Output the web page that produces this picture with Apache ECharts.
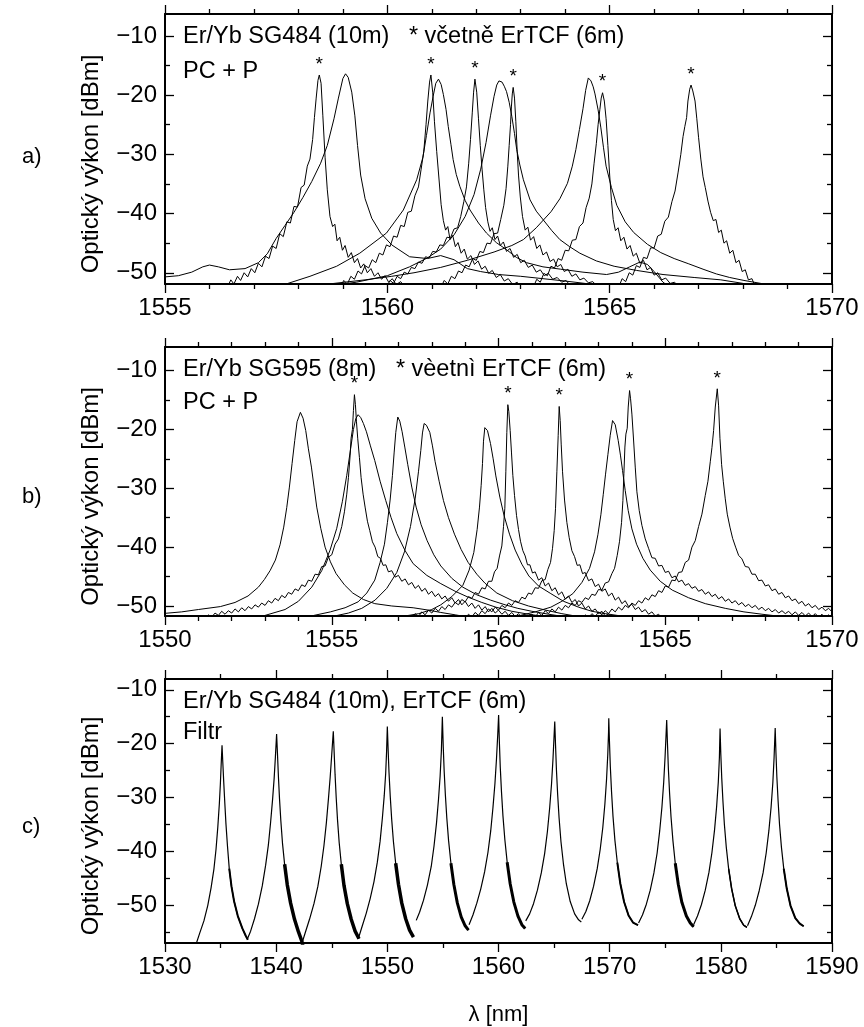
<!DOCTYPE html>
<html>
<head>
<meta charset="utf-8">
<script src="https://cdn.jsdelivr.net/npm/echarts@6/dist/echarts.min.js"></script>
<style>
  html, body { margin: 0; padding: 0; background: #fff; }
  #chart { width: 864px; height: 1027px; }
</style>
</head>
<body>
<div id="chart"></div>
<script>
// ---------- axis ranges and tick values ----------
const xRangeA = [1555, 1570];
const xRangeB = [1550, 1570];
const xRangeC = [1530, 1590];
const yRangeA = [-51.9, -6.3];
const yRangeB = [-51.7, -6.0];
const yRangeC = [-57, -8];
const yMajorTicks = [-50, -40, -30, -20, -10];
const yMinorTicksAB = [-45, -35, -25, -15];
const yMinorTicksC = [-55, -45, -35, -25, -15];

// ---------- panel a: Er/Yb SG484 (10 m); starred = with ErTCF (6 m) ----------
const aU1 = [[1555.0,-50.7],[1555.3,-50.5],[1555.6,-49.9],[1555.85,-49.0],[1556.0,-48.7],[1556.2,-49.0],[1556.45,-49.5],[1556.8,-49.3],[1557.1,-48.3],[1557.3,-46.8],[1557.5,-44.2],[1557.7,-42.0],[1557.9,-39.8],[1558.1,-37.3],[1558.3,-34.6],[1558.5,-31.5],[1558.65,-28.5],[1558.8,-24.0],[1558.9,-20.5],[1559.0,-17.2],[1559.06,-16.4],[1559.12,-17.0],[1559.2,-19.5],[1559.27,-23.5],[1559.33,-28.5],[1559.4,-33.5],[1559.5,-37.5],[1559.65,-40.8],[1559.85,-43.3],[1560.1,-45.3],[1560.5,-47.3],[1560.9,-47.6],[1561.2,-47.1],[1561.5,-47.8],[1561.8,-49.3],[1562.1,-49.8],[1562.5,-50.3],[1563.0,-50.6],[1564.0,-51.4],[1565.0,-52.3]];
const aS1 = [[1556.40,-52.5],[1556.48,-51.2],[1556.55,-51.9],[1556.63,-50.6],[1556.7,-51.3],[1556.78,-50.0],[1556.86,-50.7],[1556.94,-49.3],[1557.02,-50.0],[1557.1,-48.4],[1557.18,-49.0],[1557.26,-47.2],[1557.34,-47.6],[1557.42,-45.5],[1557.5,-45.9],[1557.58,-43.4],[1557.66,-43.9],[1557.74,-41.4],[1557.82,-41.6],[1557.9,-38.8],[1557.98,-38.9],[1558.06,-35.6],[1558.13,-35.2],[1558.2,-32.0],[1558.26,-30.8],[1558.32,-27.5],[1558.36,-23.8],[1558.4,-20.5],[1558.44,-17.5],[1558.47,-16.6],[1558.51,-18.0],[1558.55,-23.5],[1558.6,-30.5],[1558.65,-36.0],[1558.71,-40.5],[1558.77,-42.2],[1558.82,-41.8],[1558.87,-44.6],[1558.93,-44.0],[1558.99,-46.2],[1559.05,-45.4],[1559.12,-47.4],[1559.19,-46.6],[1559.26,-48.3],[1559.33,-47.6],[1559.4,-49.2],[1559.47,-48.5],[1559.55,-50.0],[1559.63,-49.3],[1559.71,-50.6],[1559.79,-50.0],[1559.87,-51.1],[1559.95,-50.5],[1560.03,-51.6],[1560.11,-51.0],[1560.2,-52.0],[1560.3,-51.5],[1560.4,-52.5]];
const aS2 = [[1558.94,-52.5],[1559.02,-51.3],[1559.1,-51.9],[1559.18,-50.6],[1559.26,-51.1],[1559.34,-49.7],[1559.42,-50.2],[1559.5,-48.8],[1559.58,-49.2],[1559.66,-47.8],[1559.74,-48.3],[1559.82,-46.7],[1559.9,-47.0],[1559.98,-45.3],[1560.06,-45.6],[1560.14,-43.8],[1560.22,-44.0],[1560.3,-42.0],[1560.38,-42.2],[1560.46,-39.8],[1560.54,-39.6],[1560.62,-37.0],[1560.7,-35.5],[1560.76,-32.5],[1560.82,-29.5],[1560.87,-25.0],[1560.91,-21.0],[1560.95,-17.8],[1560.98,-16.6],[1561.02,-19.5],[1561.06,-24.5],[1561.11,-29.5],[1561.16,-34.0],[1561.21,-38.5],[1561.26,-41.2],[1561.31,-42.8],[1561.36,-42.2],[1561.41,-44.4],[1561.47,-43.7],[1561.53,-45.6],[1561.59,-44.9],[1561.66,-46.7],[1561.73,-46.0],[1561.8,-47.7],[1561.88,-47.1],[1561.96,-48.6],[1562.04,-48.0],[1562.12,-49.4],[1562.2,-48.9],[1562.28,-50.1],[1562.36,-49.6],[1562.45,-50.8],[1562.54,-50.3],[1562.63,-51.4],[1562.72,-51.0],[1562.82,-52.0],[1562.92,-51.6],[1563.02,-52.5]];
const aU2 = [[1557.6,-52.2],[1558.26,-50.6],[1558.86,-48.9],[1559.38,-46.7],[1559.98,-43.3],[1560.36,-39.4],[1560.66,-34.3],[1560.8,-30.5],[1560.88,-26.8],[1560.96,-23.0],[1561.03,-20.2],[1561.09,-18.0],[1561.15,-17.3],[1561.21,-18.2],[1561.26,-19.9],[1561.32,-22.4],[1561.37,-25.3],[1561.43,-28.3],[1561.48,-30.9],[1561.55,-33.4],[1561.63,-35.4],[1561.75,-37.8],[1561.86,-39.4],[1562.05,-41.6],[1562.23,-43.3],[1562.45,-44.9],[1562.68,-46.1],[1562.9,-47.4],[1563.13,-48.3],[1563.5,-49.0],[1563.9,-49.4],[1564.4,-49.9],[1564.93,-50.3],[1565.2,-49.9],[1565.45,-49.0],[1565.68,-48.2],[1565.85,-48.6],[1566.0,-49.8],[1566.2,-51.6],[1566.35,-52.4]];
const aS3 = [[1559.98,-52.5],[1560.06,-51.3],[1560.14,-51.8],[1560.22,-50.6],[1560.3,-51.0],[1560.38,-49.9],[1560.46,-50.2],[1560.54,-49.1],[1560.62,-49.3],[1560.7,-48.2],[1560.78,-48.4],[1560.86,-47.3],[1560.94,-47.5],[1561.02,-46.4],[1561.1,-46.5],[1561.18,-45.3],[1561.26,-45.4],[1561.34,-44.0],[1561.42,-44.1],[1561.5,-42.6],[1561.58,-42.4],[1561.65,-40.5],[1561.72,-38.0],[1561.78,-35.5],[1561.83,-31.5],[1561.87,-27.5],[1561.91,-23.0],[1561.94,-19.5],[1561.97,-17.3],[1562.01,-19.5],[1562.05,-24.0],[1562.09,-28.5],[1562.13,-32.5],[1562.17,-36.0],[1562.21,-39.0],[1562.26,-41.4],[1562.31,-43.0],[1562.36,-42.4],[1562.42,-44.4],[1562.48,-43.8],[1562.54,-45.4],[1562.61,-44.8],[1562.68,-46.4],[1562.76,-45.9],[1562.84,-47.4],[1562.92,-46.9],[1563.0,-48.3],[1563.08,-47.9],[1563.17,-49.1],[1563.26,-48.7],[1563.35,-49.9],[1563.44,-49.5],[1563.53,-50.5],[1563.62,-50.1],[1563.72,-51.1],[1563.82,-50.8],[1563.92,-51.6],[1564.02,-51.3],[1564.15,-52.5]];
const aU3 = [[1558.6,-52.3],[1559.3,-51.6],[1560.0,-50.5],[1560.5,-49.0],[1560.9,-47.5],[1561.2,-46.0],[1561.5,-43.6],[1561.75,-40.5],[1561.95,-36.8],[1562.1,-32.5],[1562.22,-28.0],[1562.32,-23.5],[1562.4,-20.2],[1562.46,-18.3],[1562.51,-17.6],[1562.58,-17.8],[1562.63,-18.5],[1562.68,-19.4],[1562.74,-21.2],[1562.8,-23.6],[1562.86,-26.5],[1562.91,-29.2],[1562.98,-31.8],[1563.06,-34.3],[1563.21,-37.7],[1563.35,-39.6],[1563.51,-41.1],[1563.7,-42.9],[1563.88,-44.4],[1564.1,-45.6],[1564.33,-46.7],[1564.7,-48.0],[1565.1,-48.9],[1565.6,-49.6],[1566.2,-50.3],[1566.9,-50.8],[1567.5,-51.2],[1568.0,-51.8],[1568.3,-52.3]];
const aS4 = [[1561.2,-52.5],[1561.28,-51.3],[1561.36,-51.9],[1561.44,-50.6],[1561.52,-51.0],[1561.6,-49.7],[1561.68,-50.0],[1561.76,-48.7],[1561.84,-49.0],[1561.92,-47.6],[1562.0,-47.9],[1562.08,-46.4],[1562.16,-46.6],[1562.24,-45.0],[1562.32,-45.1],[1562.4,-43.4],[1562.48,-43.3],[1562.55,-41.0],[1562.62,-38.6],[1562.67,-35.8],[1562.71,-32.0],[1562.74,-28.5],[1562.77,-25.0],[1562.79,-22.0],[1562.81,-19.8],[1562.83,-18.7],[1562.86,-20.5],[1562.89,-24.5],[1562.92,-29.5],[1562.95,-33.5],[1562.99,-37.2],[1563.04,-40.5],[1563.1,-42.8],[1563.16,-42.3],[1563.22,-44.5],[1563.29,-43.9],[1563.36,-45.9],[1563.43,-45.3],[1563.5,-47.0],[1563.58,-46.5],[1563.66,-48.1],[1563.74,-47.7],[1563.82,-49.0],[1563.9,-48.6],[1563.98,-49.8],[1564.06,-49.4],[1564.15,-50.6],[1564.24,-50.2],[1564.33,-51.2],[1564.42,-50.9],[1564.52,-51.7],[1564.62,-51.5],[1564.75,-52.5]];
const aU4 = [[1558.0,-52.3],[1558.8,-51.8],[1559.5,-51.2],[1560.1,-50.6],[1560.6,-50.0],[1561.2,-49.1],[1561.8,-47.9],[1562.4,-46.5],[1562.8,-45.4],[1563.06,-44.4],[1563.35,-42.4],[1563.68,-39.7],[1563.88,-37.5],[1564.05,-34.9],[1564.16,-32.0],[1564.24,-29.2],[1564.32,-25.8],[1564.4,-22.3],[1564.46,-19.2],[1564.52,-17.1],[1564.58,-17.6],[1564.63,-18.6],[1564.67,-19.8],[1564.74,-22.5],[1564.8,-25.4],[1564.86,-28.8],[1564.92,-32.0],[1565.04,-35.6],[1565.16,-38.6],[1565.35,-41.4],[1565.54,-43.2],[1565.85,-45.2],[1566.15,-46.6],[1566.45,-47.6],[1566.78,-48.5],[1567.1,-49.4],[1567.4,-50.2],[1567.7,-50.8],[1568.02,-51.3],[1568.4,-51.8],[1568.8,-52.3]];
const aS5 = [[1563.28,-52.5],[1563.36,-51.1],[1563.44,-51.6],[1563.52,-50.1],[1563.6,-50.5],[1563.68,-48.9],[1563.76,-49.2],[1563.84,-47.6],[1563.92,-47.9],[1564.0,-46.2],[1564.08,-46.3],[1564.16,-44.5],[1564.24,-44.4],[1564.32,-42.2],[1564.4,-41.6],[1564.47,-39.0],[1564.54,-37.4],[1564.6,-35.0],[1564.65,-31.5],[1564.7,-28.2],[1564.74,-25.0],[1564.78,-22.4],[1564.81,-20.5],[1564.84,-19.6],[1564.88,-21.0],[1564.92,-24.0],[1564.96,-28.5],[1565.0,-33.5],[1565.04,-37.8],[1565.08,-41.0],[1565.13,-42.9],[1565.19,-42.4],[1565.25,-44.6],[1565.32,-44.0],[1565.39,-46.0],[1565.46,-45.4],[1565.53,-47.2],[1565.6,-46.7],[1565.68,-48.4],[1565.76,-47.9],[1565.84,-49.5],[1565.92,-49.1],[1566.0,-50.4],[1566.08,-50.0],[1566.17,-51.2],[1566.26,-50.9],[1566.36,-51.8],[1566.46,-51.6],[1566.58,-52.5]];
const aS6 = [[1565.2,-52.5],[1565.28,-51.0],[1565.36,-51.5],[1565.44,-50.0],[1565.52,-50.4],[1565.6,-48.8],[1565.68,-49.1],[1565.76,-47.4],[1565.84,-47.6],[1565.92,-45.8],[1566.0,-45.8],[1566.08,-43.8],[1566.16,-43.5],[1566.24,-41.3],[1566.32,-40.6],[1566.4,-38.0],[1566.47,-36.2],[1566.54,-33.0],[1566.6,-30.0],[1566.65,-27.0],[1566.69,-25.3],[1566.73,-23.8],[1566.76,-21.0],[1566.8,-19.0],[1566.83,-18.3],[1566.87,-19.3],[1566.92,-21.0],[1566.96,-24.0],[1567.0,-27.2],[1567.05,-30.8],[1567.1,-33.8],[1567.15,-35.6],[1567.21,-37.9],[1567.27,-39.8],[1567.33,-41.2],[1567.39,-41.0],[1567.45,-43.2],[1567.51,-42.8],[1567.57,-45.0],[1567.63,-44.6],[1567.7,-46.7],[1567.77,-46.2],[1567.84,-48.3],[1567.91,-47.9],[1567.98,-49.8],[1568.05,-49.5],[1568.12,-51.2],[1568.2,-51.0],[1568.28,-52.5]];

// ---------- panel b: Er/Yb SG595 (8 m); starred = with ErTCF (6 m) ----------
const bU1 = [[1549.9,-51.3],[1550.5,-51.0],[1551.0,-50.6],[1551.66,-50.1],[1552.1,-49.4],[1552.49,-48.3],[1552.8,-46.8],[1552.98,-45.5],[1553.15,-44.0],[1553.31,-42.2],[1553.45,-39.6],[1553.56,-36.6],[1553.65,-33.3],[1553.73,-29.8],[1553.81,-25.8],[1553.89,-21.9],[1553.96,-18.7],[1554.06,-17.1],[1554.14,-18.1],[1554.22,-20.2],[1554.3,-23.3],[1554.39,-26.4],[1554.47,-29.8],[1554.55,-33.2],[1554.67,-36.8],[1554.8,-40.0],[1554.96,-42.5],[1555.13,-44.5],[1555.38,-46.4],[1555.63,-47.8],[1555.95,-48.9],[1556.29,-49.6],[1556.8,-50.0],[1557.44,-50.3],[1557.9,-50.7],[1558.27,-51.1],[1558.7,-51.5],[1559.0,-51.8],[1559.5,-52.2]];
const bS1 = [[1551.2,-52.3],[1551.3,-51.5],[1551.4,-51.9],[1551.5,-51.2],[1551.6,-51.6],[1551.7,-50.9],[1551.8,-51.4],[1551.9,-50.8],[1552.0,-51.2],[1552.1,-50.5],[1552.2,-51.0],[1552.3,-50.3],[1552.4,-50.8],[1552.5,-50.1],[1552.6,-50.5],[1552.7,-49.8],[1552.8,-50.2],[1552.9,-49.5],[1553.0,-49.9],[1553.1,-49.1],[1553.2,-49.5],[1553.3,-48.7],[1553.4,-49.1],[1553.5,-48.2],[1553.6,-48.6],[1553.7,-47.7],[1553.8,-48.0],[1553.9,-47.1],[1554.0,-47.4],[1554.1,-46.4],[1554.2,-46.7],[1554.3,-45.6],[1554.4,-45.8],[1554.5,-44.6],[1554.6,-44.7],[1554.7,-43.3],[1554.8,-43.2],[1554.9,-41.7],[1555.0,-41.3],[1555.1,-39.5],[1555.2,-38.6],[1555.3,-36.5],[1555.38,-34.0],[1555.45,-31.0],[1555.5,-28.2],[1555.55,-24.5],[1555.58,-21.5],[1555.62,-20.0],[1555.65,-16.8],[1555.68,-14.1],[1555.71,-15.8],[1555.74,-18.6],[1555.78,-21.6],[1555.83,-24.8],[1555.88,-28.2],[1555.94,-31.0],[1556.0,-33.2],[1556.07,-35.6],[1556.14,-37.2],[1556.22,-39.1],[1556.3,-40.0],[1556.38,-41.6],[1556.46,-41.9],[1556.54,-43.1],[1556.62,-43.0],[1556.7,-44.2],[1556.8,-44.0],[1556.9,-45.1],[1557.0,-44.8],[1557.1,-45.8],[1557.2,-45.4],[1557.3,-46.4],[1557.4,-46.0],[1557.5,-47.0],[1557.6,-46.5],[1557.7,-47.5],[1557.8,-47.0],[1557.9,-48.0],[1558.0,-47.5],[1558.1,-48.4],[1558.2,-47.9],[1558.3,-48.8],[1558.4,-48.3],[1558.5,-49.2],[1558.6,-48.6],[1558.7,-49.5],[1558.8,-48.9],[1558.9,-49.8],[1559.0,-49.2],[1559.1,-50.1],[1559.2,-49.5],[1559.3,-50.4],[1559.4,-49.8],[1559.5,-50.7],[1559.6,-50.1],[1559.7,-51.0],[1559.8,-50.4],[1559.9,-51.2],[1560.0,-50.7],[1560.1,-51.4],[1560.2,-50.9],[1560.3,-51.6],[1560.4,-51.1],[1560.5,-51.8],[1560.6,-51.3],[1560.7,-52.0],[1560.8,-51.5],[1560.9,-52.3]];
const bU2 = [[1552.3,-52.3],[1553.0,-51.6],[1553.6,-50.6],[1554.0,-49.2],[1554.4,-46.8],[1554.7,-44.0],[1554.95,-40.5],[1555.15,-36.8],[1555.32,-32.2],[1555.45,-27.8],[1555.56,-23.5],[1555.65,-20.0],[1555.72,-18.2],[1555.79,-17.5],[1555.87,-18.0],[1555.95,-19.0],[1556.04,-20.4],[1556.16,-22.8],[1556.29,-25.3],[1556.45,-28.8],[1556.62,-32.1],[1556.78,-35.0],[1556.95,-37.7],[1557.2,-40.6],[1557.44,-42.8],[1557.85,-44.8],[1558.27,-46.2],[1558.7,-47.5],[1559.09,-48.5],[1559.5,-49.4],[1559.92,-50.2],[1560.4,-50.9],[1560.9,-51.4],[1561.5,-51.9],[1562.2,-52.3]];
const bU3 = [[1553.6,-52.3],[1554.3,-51.8],[1554.96,-51.0],[1555.4,-50.3],[1555.79,-49.3],[1556.05,-47.8],[1556.29,-45.6],[1556.45,-42.6],[1556.58,-39.5],[1556.67,-35.8],[1556.75,-32.0],[1556.82,-27.8],[1556.87,-24.0],[1556.92,-20.5],[1556.98,-17.9],[1557.04,-18.6],[1557.11,-20.4],[1557.19,-23.0],[1557.28,-26.0],[1557.4,-29.8],[1557.53,-33.2],[1557.68,-36.2],[1557.86,-38.9],[1558.06,-41.3],[1558.27,-43.2],[1558.6,-45.3],[1558.93,-46.8],[1559.35,-48.1],[1559.76,-49.0],[1560.2,-49.8],[1560.58,-50.4],[1561.0,-50.9],[1561.5,-51.4],[1562.2,-52.0]];
const bU4 = [[1554.3,-52.3],[1555.0,-51.8],[1555.5,-51.2],[1555.9,-50.4],[1556.3,-49.0],[1556.65,-47.0],[1556.95,-44.3],[1557.18,-40.8],[1557.36,-36.5],[1557.5,-31.8],[1557.6,-27.2],[1557.67,-23.6],[1557.72,-20.6],[1557.77,-19.0],[1557.84,-19.3],[1557.94,-20.5],[1558.02,-22.8],[1558.1,-25.5],[1558.22,-28.8],[1558.35,-32.1],[1558.5,-35.0],[1558.68,-37.8],[1558.88,-40.4],[1559.09,-42.6],[1559.35,-44.6],[1559.59,-46.1],[1559.95,-47.8],[1560.42,-49.1],[1560.9,-50.0],[1561.41,-50.7],[1561.9,-51.3],[1562.4,-51.8],[1563.0,-52.3]];
const bU5 = [[1556.4,-52.3],[1557.0,-51.9],[1557.61,-51.3],[1558.0,-50.6],[1558.27,-49.8],[1558.6,-48.4],[1558.93,-46.5],[1559.12,-43.9],[1559.26,-40.9],[1559.36,-37.0],[1559.43,-33.2],[1559.48,-29.5],[1559.52,-25.8],[1559.55,-22.0],[1559.59,-19.7],[1559.67,-20.2],[1559.76,-22.4],[1559.84,-25.0],[1559.92,-27.9],[1560.04,-31.5],[1560.17,-34.7],[1560.33,-37.8],[1560.5,-40.5],[1560.7,-42.9],[1560.91,-44.9],[1561.2,-46.6],[1561.57,-47.9],[1561.95,-49.2],[1562.4,-50.2],[1562.8,-50.9],[1563.2,-51.3],[1563.8,-51.8],[1564.5,-52.3]];
const bS2 = [[1557.2,-52.3],[1557.3,-51.6],[1557.4,-52.0],[1557.5,-51.3],[1557.6,-51.8],[1557.7,-51.0],[1557.8,-51.5],[1557.9,-50.7],[1558.0,-51.2],[1558.1,-50.4],[1558.2,-50.9],[1558.3,-50.1],[1558.4,-50.6],[1558.5,-49.8],[1558.6,-50.2],[1558.7,-49.4],[1558.8,-49.8],[1558.9,-48.9],[1559.0,-49.3],[1559.1,-48.4],[1559.2,-48.7],[1559.3,-47.7],[1559.4,-48.0],[1559.5,-46.9],[1559.6,-47.1],[1559.7,-45.8],[1559.8,-45.8],[1559.88,-44.2],[1559.96,-43.6],[1560.03,-41.5],[1560.1,-39.8],[1560.15,-36.5],[1560.19,-33.4],[1560.22,-27.2],[1560.25,-20.5],[1560.28,-15.8],[1560.31,-17.0],[1560.35,-20.2],[1560.39,-24.0],[1560.43,-27.8],[1560.48,-31.2],[1560.54,-34.6],[1560.6,-37.0],[1560.66,-39.0],[1560.73,-40.6],[1560.8,-41.5],[1560.87,-43.0],[1560.94,-43.0],[1561.02,-44.4],[1561.1,-44.2],[1561.2,-45.6],[1561.3,-45.2],[1561.4,-46.6],[1561.5,-46.1],[1561.6,-47.4],[1561.7,-46.9],[1561.8,-48.1],[1561.9,-47.6],[1562.0,-48.8],[1562.1,-48.3],[1562.2,-49.4],[1562.3,-48.9],[1562.4,-50.0],[1562.5,-49.5],[1562.6,-50.5],[1562.7,-50.0],[1562.8,-50.9],[1562.9,-50.5],[1563.0,-51.3],[1563.1,-50.9],[1563.2,-51.7],[1563.3,-51.3],[1563.4,-52.0],[1563.5,-51.7],[1563.6,-52.3]];
const bS3 = [[1558.8,-52.3],[1558.9,-51.7],[1559.0,-52.1],[1559.1,-51.4],[1559.2,-51.9],[1559.3,-51.1],[1559.4,-51.6],[1559.5,-50.8],[1559.6,-51.3],[1559.7,-50.5],[1559.8,-51.0],[1559.9,-50.2],[1560.0,-50.7],[1560.1,-49.9],[1560.2,-50.3],[1560.3,-49.5],[1560.4,-49.9],[1560.5,-49.1],[1560.6,-49.4],[1560.7,-48.5],[1560.8,-48.8],[1560.9,-47.8],[1561.0,-48.0],[1561.1,-46.9],[1561.2,-47.0],[1561.3,-45.7],[1561.4,-45.5],[1561.48,-43.8],[1561.56,-42.6],[1561.62,-40.2],[1561.67,-37.2],[1561.71,-33.4],[1561.75,-27.2],[1561.79,-21.0],[1561.82,-16.1],[1561.85,-18.5],[1561.88,-22.5],[1561.92,-27.2],[1561.98,-32.0],[1562.05,-35.8],[1562.12,-38.4],[1562.2,-40.6],[1562.28,-41.6],[1562.36,-43.1],[1562.44,-43.0],[1562.52,-44.5],[1562.6,-44.3],[1562.7,-45.7],[1562.8,-45.4],[1562.9,-46.7],[1563.0,-46.3],[1563.1,-47.5],[1563.2,-47.1],[1563.3,-48.3],[1563.4,-47.8],[1563.5,-49.0],[1563.6,-48.5],[1563.7,-49.6],[1563.8,-49.1],[1563.9,-50.1],[1564.0,-49.7],[1564.1,-50.6],[1564.2,-50.2],[1564.3,-51.0],[1564.4,-50.6],[1564.5,-51.4],[1564.6,-51.0],[1564.7,-51.7],[1564.8,-51.4],[1564.9,-52.0],[1565.0,-51.7],[1565.1,-52.3]];
const bU6 = [[1559.8,-52.3],[1560.58,-51.7],[1561.1,-51.0],[1561.57,-50.2],[1561.9,-49.2],[1562.23,-47.9],[1562.5,-46.0],[1562.73,-43.6],[1562.88,-40.8],[1562.98,-37.9],[1563.07,-34.5],[1563.14,-31.1],[1563.21,-27.6],[1563.28,-24.3],[1563.35,-21.0],[1563.42,-18.5],[1563.5,-19.2],[1563.59,-21.9],[1563.66,-24.5],[1563.72,-27.0],[1563.8,-30.4],[1563.89,-33.8],[1564.0,-36.9],[1564.14,-39.5],[1564.33,-41.9],[1564.55,-43.9],[1564.85,-45.8],[1565.21,-47.3],[1565.7,-48.6],[1566.2,-49.6],[1566.8,-50.4],[1567.36,-51.0],[1567.9,-51.4],[1568.51,-51.8],[1569.3,-52.2]];
const bS4 = [[1560.7,-52.3],[1560.8,-51.7],[1560.9,-52.1],[1561.0,-51.4],[1561.1,-51.9],[1561.2,-51.1],[1561.3,-51.6],[1561.4,-50.8],[1561.5,-51.3],[1561.6,-50.5],[1561.7,-51.0],[1561.8,-50.2],[1561.9,-50.7],[1562.0,-49.9],[1562.1,-50.3],[1562.2,-49.5],[1562.3,-49.9],[1562.4,-49.1],[1562.5,-49.4],[1562.6,-48.6],[1562.7,-48.9],[1562.8,-48.0],[1562.9,-48.2],[1563.0,-47.2],[1563.1,-47.3],[1563.2,-46.1],[1563.3,-45.9],[1563.4,-44.5],[1563.48,-43.6],[1563.56,-41.4],[1563.63,-39.0],[1563.69,-35.8],[1563.73,-32.1],[1563.76,-27.5],[1563.79,-23.0],[1563.82,-20.8],[1563.86,-19.8],[1563.89,-16.2],[1563.93,-13.4],[1563.96,-14.8],[1564.0,-17.4],[1564.05,-21.8],[1564.1,-26.4],[1564.15,-30.6],[1564.22,-33.8],[1564.3,-36.3],[1564.4,-38.6],[1564.5,-40.2],[1564.6,-41.8],[1564.7,-41.9],[1564.8,-43.2],[1564.9,-43.1],[1565.0,-44.3],[1565.1,-44.1],[1565.2,-45.2],[1565.3,-44.9],[1565.4,-45.9],[1565.5,-45.6],[1565.6,-46.5],[1565.7,-46.2],[1565.8,-47.0],[1565.9,-46.7],[1566.0,-47.5],[1566.1,-47.2],[1566.2,-48.0],[1566.3,-47.6],[1566.4,-48.4],[1566.5,-48.0],[1566.6,-48.8],[1566.7,-48.4],[1566.8,-49.2],[1566.9,-48.8],[1567.0,-49.5],[1567.1,-49.1],[1567.2,-49.8],[1567.3,-49.4],[1567.4,-50.1],[1567.5,-49.7],[1567.6,-50.3],[1567.7,-49.9],[1567.8,-50.6],[1567.9,-50.2],[1568.0,-50.8],[1568.1,-50.4],[1568.2,-51.0],[1568.3,-50.6],[1568.4,-51.2],[1568.5,-50.8],[1568.6,-51.3],[1568.7,-50.9],[1568.8,-51.5],[1568.9,-51.0],[1569.0,-51.6],[1569.1,-51.1],[1569.2,-51.7],[1569.3,-51.2],[1569.4,-51.8],[1569.5,-51.3],[1569.6,-51.9],[1569.7,-51.4],[1569.8,-52.0],[1569.9,-51.5],[1570.0,-52.0]];
const bS5 = [[1562.3,-52.3],[1562.4,-51.8],[1562.5,-52.2],[1562.6,-51.5],[1562.7,-52.0],[1562.8,-51.3],[1562.9,-51.8],[1563.0,-51.0],[1563.1,-51.5],[1563.2,-50.8],[1563.3,-51.3],[1563.4,-50.5],[1563.5,-51.0],[1563.6,-50.2],[1563.7,-50.7],[1563.8,-49.9],[1563.9,-50.3],[1564.0,-49.5],[1564.1,-49.9],[1564.2,-49.1],[1564.3,-49.5],[1564.4,-48.6],[1564.5,-49.0],[1564.6,-48.1],[1564.7,-48.4],[1564.8,-47.4],[1564.9,-47.7],[1565.0,-46.6],[1565.1,-46.8],[1565.2,-45.6],[1565.3,-45.7],[1565.4,-44.3],[1565.5,-44.2],[1565.6,-42.6],[1565.7,-42.2],[1565.8,-40.0],[1565.9,-38.9],[1566.0,-36.5],[1566.1,-34.4],[1566.2,-31.2],[1566.28,-28.8],[1566.35,-25.5],[1566.4,-23.1],[1566.45,-20.2],[1566.5,-16.2],[1566.56,-13.1],[1566.6,-16.0],[1566.64,-21.5],[1566.69,-26.0],[1566.74,-28.8],[1566.8,-31.8],[1566.86,-34.4],[1566.94,-36.6],[1567.02,-38.5],[1567.11,-40.0],[1567.2,-41.4],[1567.3,-42.0],[1567.4,-43.3],[1567.5,-43.4],[1567.6,-44.6],[1567.7,-44.6],[1567.8,-45.7],[1567.9,-45.6],[1568.0,-46.6],[1568.1,-46.4],[1568.2,-47.4],[1568.3,-47.1],[1568.4,-48.0],[1568.5,-47.7],[1568.6,-48.6],[1568.7,-48.3],[1568.8,-49.1],[1568.9,-48.8],[1569.0,-49.6],[1569.1,-49.2],[1569.2,-50.0],[1569.3,-49.6],[1569.4,-50.3],[1569.5,-49.9],[1569.6,-50.6],[1569.7,-50.2],[1569.8,-50.8],[1569.9,-50.4],[1570.0,-51.0]];

// ---------- panel c: Er/Yb SG484 (10 m) + ErTCF (6 m) with filter ----------
const cP1 = [[1532.75,-57.5],[1533.1,-55.3],[1533.5,-52.9],[1533.85,-50.0],[1534.14,-46.8],[1534.4,-43.3],[1534.59,-39.6],[1534.75,-35.5],[1534.89,-31.1],[1534.98,-27.5],[1535.05,-24.0],[1535.13,-20.3],[1535.2,-23.5],[1535.28,-27.0],[1535.38,-31.0],[1535.48,-34.8],[1535.62,-39.0],[1535.78,-43.2],[1535.98,-46.5],[1536.22,-49.3],[1536.55,-52.0],[1536.96,-54.3],[1537.25,-55.6],[1537.45,-56.4]];
const cP2 = [[1537.4,-56.3],[1537.7,-54.8],[1538.05,-52.5],[1538.4,-49.8],[1538.75,-46.4],[1539.05,-42.6],[1539.3,-38.8],[1539.5,-34.6],[1539.68,-30.3],[1539.82,-26.4],[1539.93,-22.5],[1540.04,-18.2],[1540.12,-22.0],[1540.2,-26.0],[1540.3,-30.2],[1540.42,-34.3],[1540.57,-38.5],[1540.76,-42.4],[1541.0,-46.2],[1541.3,-49.6],[1541.65,-52.6],[1542.0,-54.9],[1542.3,-56.6],[1542.4,-57.5]];
const cP3 = [[1542.25,-57.5],[1542.6,-55.2],[1543.0,-52.6],[1543.4,-49.7],[1543.75,-46.5],[1544.05,-42.8],[1544.3,-38.9],[1544.52,-34.6],[1544.7,-30.3],[1544.86,-26.2],[1544.99,-22.3],[1545.14,-17.7],[1545.22,-21.8],[1545.3,-25.8],[1545.4,-30.0],[1545.52,-34.2],[1545.67,-38.4],[1545.86,-42.4],[1546.1,-46.3],[1546.4,-49.7],[1546.75,-52.6],[1547.1,-54.8],[1547.45,-56.2]];
const cP4 = [[1547.45,-55.8],[1547.75,-53.8],[1548.1,-51.5],[1548.45,-48.8],[1548.8,-45.6],[1549.1,-42.0],[1549.35,-38.1],[1549.55,-33.9],[1549.72,-29.7],[1549.85,-25.6],[1549.93,-21.6],[1550.0,-16.8],[1550.07,-21.0],[1550.15,-25.3],[1550.26,-29.7],[1550.39,-34.0],[1550.55,-38.2],[1550.75,-42.2],[1551.0,-46.1],[1551.3,-49.6],[1551.65,-52.5],[1552.0,-54.6],[1552.35,-55.9]];
const cP5 = [[1552.6,-52.8],[1552.9,-51.3],[1553.25,-49.1],[1553.6,-46.3],[1553.95,-42.8],[1554.2,-39.0],[1554.42,-34.8],[1554.6,-30.4],[1554.75,-26.0],[1554.86,-21.4],[1554.95,-15.0],[1555.03,-20.6],[1555.11,-25.0],[1555.22,-29.5],[1555.35,-33.8],[1555.51,-38.0],[1555.72,-42.2],[1555.98,-46.1],[1556.3,-49.6],[1556.65,-52.2],[1557.0,-53.8],[1557.3,-54.6]];
const cP6 = [[1557.35,-53.6],[1557.7,-51.8],[1558.05,-49.6],[1558.4,-47.0],[1558.75,-43.8],[1559.05,-40.2],[1559.3,-36.2],[1559.5,-31.9],[1559.68,-27.4],[1559.82,-22.8],[1559.93,-18.4],[1560.01,-14.7],[1560.08,-19.8],[1560.16,-24.4],[1560.27,-29.0],[1560.4,-33.4],[1560.57,-37.8],[1560.78,-42.0],[1561.05,-46.0],[1561.38,-49.4],[1561.75,-52.0],[1562.1,-53.6],[1562.4,-54.3]];
const cP7 = [[1562.45,-52.9],[1562.8,-51.6],[1563.15,-49.7],[1563.5,-47.2],[1563.85,-44.0],[1564.15,-40.4],[1564.4,-36.3],[1564.6,-32.0],[1564.77,-27.5],[1564.9,-22.9],[1564.99,-19.0],[1565.06,-15.9],[1565.13,-20.2],[1565.21,-24.8],[1565.32,-29.4],[1565.45,-33.8],[1565.62,-38.2],[1565.84,-42.3],[1566.1,-46.0],[1566.45,-49.3],[1566.85,-51.6],[1567.2,-52.7],[1567.45,-53.1]];
const cP8 = [[1567.5,-52.6],[1567.85,-51.2],[1568.2,-49.2],[1568.55,-46.5],[1568.88,-43.2],[1569.15,-39.6],[1569.38,-35.6],[1569.57,-31.2],[1569.72,-26.6],[1569.83,-22.0],[1569.9,-17.8],[1569.92,-15.3],[1569.98,-19.5],[1570.06,-24.3],[1570.17,-29.0],[1570.3,-33.5],[1570.47,-37.9],[1570.69,-42.1],[1570.96,-46.0],[1571.3,-49.4],[1571.7,-51.9],[1572.1,-53.2],[1572.55,-53.7]];
const cP9 = [[1572.6,-53.3],[1572.95,-51.8],[1573.3,-49.8],[1573.65,-47.2],[1573.98,-44.0],[1574.27,-40.3],[1574.5,-36.2],[1574.7,-31.8],[1574.86,-27.2],[1574.98,-22.6],[1575.07,-18.5],[1575.13,-15.6],[1575.2,-20.0],[1575.28,-24.6],[1575.39,-29.2],[1575.52,-33.6],[1575.69,-38.0],[1575.9,-42.2],[1576.17,-46.1],[1576.5,-49.5],[1576.9,-52.0],[1577.25,-53.3],[1577.55,-54.0]];
const cP10 = [[1577.55,-53.6],[1577.9,-52.0],[1578.25,-49.9],[1578.6,-47.2],[1578.93,-43.9],[1579.2,-40.2],[1579.43,-36.1],[1579.62,-31.7],[1579.77,-27.2],[1579.87,-22.6],[1579.93,-17.2],[1580.0,-22.0],[1580.08,-26.3],[1580.19,-30.7],[1580.32,-35.0],[1580.49,-39.2],[1580.7,-43.2],[1580.97,-46.9],[1581.3,-50.1],[1581.7,-52.5],[1582.05,-53.7],[1582.35,-54.1]];
const cP11 = [[1582.4,-53.8],[1582.75,-52.1],[1583.1,-50.0],[1583.45,-47.3],[1583.8,-44.0],[1584.08,-40.3],[1584.32,-36.2],[1584.52,-31.8],[1584.68,-27.2],[1584.79,-22.6],[1584.89,-17.1],[1584.96,-21.8],[1585.04,-26.2],[1585.15,-30.6],[1585.28,-35.0],[1585.45,-39.2],[1585.66,-43.2],[1585.93,-46.9],[1586.27,-50.1],[1586.7,-52.4],[1587.1,-53.4],[1587.45,-53.9]];

// ---------- styling and layout ----------
const FONT = '"Liberation Sans", Arial, Helvetica, sans-serif';
const INK = '#000';
const GRIDS = [
  { left: 165, top: 14,  width: 667, height: 270 },
  { left: 165, top: 347, width: 667, height: 269 },
  { left: 165, top: 679, width: 667, height: 270 }
];
const plainNumber = v => String(v);
const minusSign = v => String(v).replace('-', '\u2212');

function xAxesFor(g, range, interval, minorSplit, extra) {
  const common = {
    type: 'value', gridIndex: g, min: range[0], max: range[1], interval,
    splitLine: { show: false },
    axisLine: { show: true, onZero: false, lineStyle: { color: INK, width: 2 } },
    axisTick: { show: true, inside: false, length: 9, lineStyle: { color: INK, width: 1.3 } },
    minorTick: { show: true, splitNumber: minorSplit, length: 5, lineStyle: { color: INK, width: 1.3 } }
  };
  return [
    Object.assign({}, common, {
      position: 'bottom',
      axisLabel: { show: true, formatter: plainNumber, color: INK, fontSize: 24, fontFamily: FONT, margin: 12 }
    }, extra || {}),
    Object.assign({}, common, { position: 'top', axisLabel: { show: false } })
  ];
}

function yAxesFor(g, range, minorVals) {
  const base = {
    type: 'value', gridIndex: g, min: range[0], max: range[1],
    splitLine: { show: false },
    axisLine: { show: true, onZero: false, lineStyle: { color: INK, width: 2 } }
  };
  const major = { show: true, inside: true, length: 9, customValues: yMajorTicks, lineStyle: { color: INK, width: 1.3 } };
  const minor = { show: true, inside: true, length: 5, customValues: minorVals, lineStyle: { color: INK, width: 1.3 } };
  return [
    Object.assign({}, base, {
      position: 'left',
      name: 'Optický výkon [dBm]', nameLocation: 'middle', nameRotate: 90, nameGap: 62,
      nameTextStyle: { color: INK, fontSize: 24, fontFamily: FONT, padding: [0, 30, 0, 0] },
      axisTick: major,
      axisLabel: { show: true, customValues: yMajorTicks, formatter: minusSign, color: INK, fontSize: 24, fontFamily: FONT, margin: 8 }
    }),
    Object.assign({}, base, { position: 'left', axisLine: { show: false }, axisTick: minor, axisLabel: { show: false } }),
    Object.assign({}, base, { position: 'right', axisTick: major, axisLabel: { show: false } }),
    Object.assign({}, base, { position: 'right', axisLine: { show: false }, axisTick: minor, axisLabel: { show: false } })
  ];
}

const xAxes = [].concat(
  xAxesFor(0, xRangeA, 5, 5),
  xAxesFor(1, xRangeB, 5, 5),
  xAxesFor(2, xRangeC, 10, 2, {
    name: 'λ [nm]', nameLocation: 'middle', nameGap: 61,
    nameTextStyle: { color: INK, fontSize: 22, fontFamily: FONT }
  })
);
const yAxes = [].concat(
  yAxesFor(0, yRangeA, yMinorTicksAB),
  yAxesFor(1, yRangeB, yMinorTicksAB),
  yAxesFor(2, yRangeC, yMinorTicksC)
);

// star marker above the top of a curve that includes the ErTCF section
const starMark = {
  symbol: 'circle', symbolSize: 0, silent: true, animation: false,
  label: { show: true, formatter: '*', position: 'top', distance: 1, color: INK, fontSize: 19, fontFamily: FONT },
  data: [{ type: 'max', valueDim: 'y' }]
};

function curve(g, data, starred, width) {
  const s = {
    type: 'line', xAxisIndex: 2 * g, yAxisIndex: 4 * g, data,
    symbol: 'none', showSymbol: false, silent: true, animation: false, clip: true,
    lineStyle: { color: INK, width: width || 1 }
  };
  if (starred) s.markPoint = starMark;
  return s;
}

const series = [];
[aU1, aU2, aU3, aU4].forEach(d => series.push(curve(0, d, false)));
[aS1, aS2, aS3, aS4, aS5, aS6].forEach(d => series.push(curve(0, d, true)));
[bU1, bU2, bU3, bU4, bU5, bU6].forEach(d => series.push(curve(1, d, false)));
[bS1, bS2, bS3, bS4, bS5].forEach(d => series.push(curve(1, d, true)));

// filtered comb: each line plus a heavier stroke over its noisy long-wavelength tail
const cPeaks = [cP1, cP2, cP3, cP4, cP5, cP6, cP7, cP8, cP9, cP10, cP11];
const tailStroke = [2, 3.5, 3.5, 3.5, 3, 3, 1, 2, 3, 1.5, 2];
cPeaks.forEach((d, i) => {
  series.push(curve(2, d, false, 1.2));
  let top = d[0];
  d.forEach(p => { if (p[1] > top[1]) top = p; });
  const tail = d.filter(p => p[0] > top[0] && p[1] < -40);
  if (tailStroke[i] > 1) series.push(curve(2, tail, false, tailStroke[i]));
});

function label(text, x, y, size) {
  return { type: 'text', x, y, silent: true,
    style: { text, fill: INK, fontSize: size, fontFamily: FONT, verticalAlign: 'middle', align: 'left' } };
}

const chart = echarts.init(document.getElementById('chart'), null, { renderer: 'canvas' });
chart.setOption({
  animation: false,
  backgroundColor: '#fff',
  grid: GRIDS,
  xAxis: xAxes,
  yAxis: yAxes,
  series,
  graphic: [
    label('Er/Yb SG484 (10m)   * včetně ErTCF (6m)', 183, 37, 23.5),
    label('PC + P', 183, 72, 23.5),
    label('Er/Yb SG595 (8m)   * vèetnì ErTCF (6m)', 183, 370, 23.5),
    label('PC + P', 183, 403, 23.5),
    label('Er/Yb SG484 (10m), ErTCF (6m)', 183, 702, 23.5),
    label('Filtr', 183, 733, 23.5),
    label('a)', 22, 157, 22),
    label('b)', 22, 497, 22),
    label('c)', 22, 827, 22)
  ]
});
</script>
</body>
</html>
